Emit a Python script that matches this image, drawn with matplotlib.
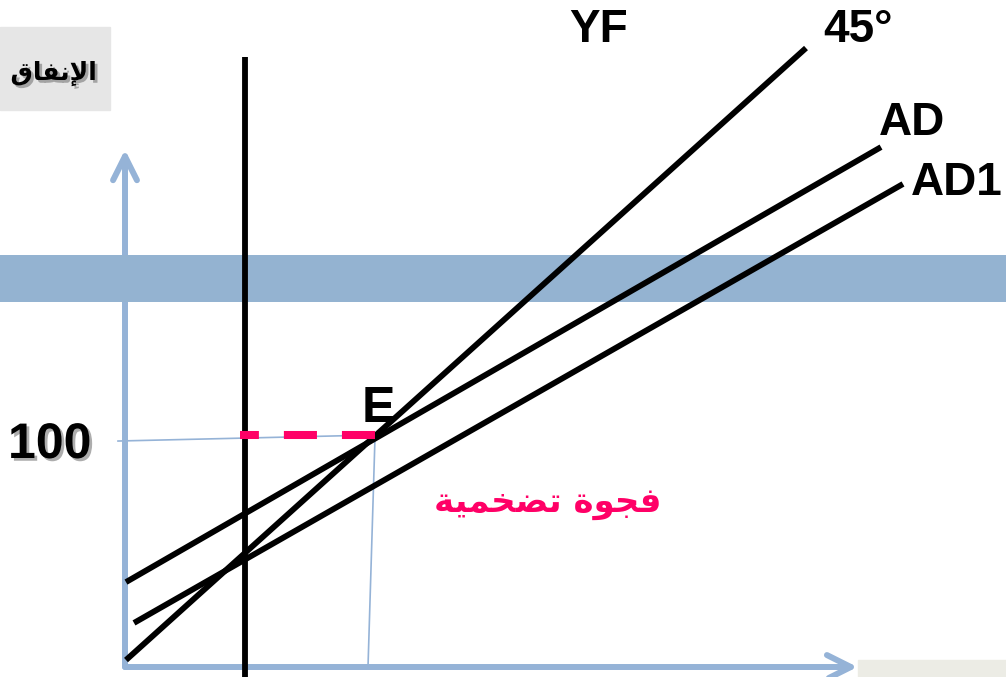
import numpy as np
import matplotlib.pyplot as plt
import matplotlib.patheffects as pe
from matplotlib.patches import Rectangle

plt.rcParams['lines.scale_dashes'] = False

# Diagram values (income on x, expenditure on y)
line_45_x = [0.4, 272.4]
line_45_y = [3.0, 266.8]
ad_x = [0.4, 302.4]
ad_y = [36.6, 224.1]
ad1_x = [3.6, 311.2]
ad1_y = [19.0, 208.2]
yf_x = [48.0, 48.0]
yf_y = [-5.0, 263.0]
eq_level = 100          # E level on the expenditure axis
eq_income = 100
gap_x = [100, 46]       # dashed pink segment (drawn right to left)
band_y = [157.3, 177.6]  # horizontal blue band
y_axis_top = 223.0
x_axis_right = 293.0

blue = '#95B3D7'
pink = '#FF0066'

fig = plt.figure(figsize=(10.06, 6.77), dpi=100)
ax = fig.add_axes([0, 0, 1, 1])
ax.set_xlim(-50, 352.4)
ax.set_ylim(-4.31, 287.5)
ax.axis('off')

# blue band
ax.axhspan(band_y[0], band_y[1], color='#94B3D1', zorder=2, lw=0)

# axes arrows
arrow_style = '->,head_length=0.86,head_width=0.43'
ax.annotate('', xy=(0, y_axis_top), xytext=(0, 0),
            arrowprops=dict(arrowstyle=arrow_style, lw=4.3, color=blue,
                            mutation_scale=20, shrinkA=0, shrinkB=0,
                            capstyle='round', joinstyle='round'), zorder=1)
ax.annotate('', xy=(x_axis_right, 0), xytext=(0, 0),
            arrowprops=dict(arrowstyle=arrow_style, lw=4.3, color=blue,
                            mutation_scale=20, shrinkA=0, shrinkB=0,
                            capstyle='round', joinstyle='round'), zorder=1)

# thin guide lines to E
ax.plot([-2.8, eq_income], [97.4, eq_level], color=blue, lw=1.2, zorder=3)
ax.plot([eq_income, 97.2], [99.0, 0], color=blue, lw=1.2, zorder=3)

# main lines
for xs, ys in [(line_45_x, line_45_y), (ad_x, ad_y), (ad1_x, ad1_y), (yf_x, yf_y)]:
    ax.plot(xs, ys, color='black', lw=4.2, solid_capstyle='butt', zorder=4)

# inflationary gap dashes
ax.plot(gap_x, [eq_level, eq_level], color=pink, lw=5.8,
        dashes=(23.8, 18.0), zorder=5)

# grey boxes
fig.patches.append(Rectangle((0, 1 - 110 / 677), 110 / 1006, 83 / 677,
                             transform=fig.transFigure, color='#E6E6E6', zorder=0))
fig.patches.append(Rectangle((858 / 1006, 0), 148 / 1006, 17 / 677,
                             transform=fig.transFigure, color='#ECECE5', zorder=0))

latin = ['Liberation Sans', 'DejaVu Sans']
shadow = [pe.withSimplePatchShadow(offset=(2, -2), shadow_rgbFace='#777777', alpha=0.6)]


def px(x, y):
    return x / 1006, 1 - y / 677


fig.text(*px(599, 42), 'YF', ha='center', va='baseline', fontsize=33,
         fontweight='bold', family=latin)
fig.text(*px(823, 42), '45°', ha='left', va='baseline', fontsize=33,
         fontweight='bold', family=latin)
fig.text(*px(879, 135), 'AD', ha='left', va='baseline', fontsize=33,
         fontweight='bold', family=latin)
fig.text(*px(911, 195), 'AD1', ha='left', va='baseline', fontsize=33,
         fontweight='bold', family=latin)
fig.text(*px(362, 422), 'E', ha='left', va='baseline', fontsize=36,
         fontweight='bold', family=latin)
fig.text(*px(8, 458), '100', ha='left', va='baseline', fontsize=36,
         fontweight='bold', family=latin, path_effects=shadow)

# Arabic text, written in visual order with presentation forms
gap_label = '\uFE94\uFEF4\uFEE4\uFEA8\uFEC0\uFE97 \uFE93\uFEEE\uFEA0\uFED3'   # فجوة تضخمية
spend_label = '\uFED5\uFE8E\uFED4\uFEE7\uFEF9\uFE8D'                          # الإنفاق
fig.text(*px(548, 512), gap_label, ha='center', va='baseline', fontsize=24.5,
         fontweight='bold', color=pink, family=['DejaVu Sans'])
fig.text(*px(97, 80), spend_label, ha='right', va='baseline', fontsize=18,
         fontweight='bold', family=['DejaVu Sans'], path_effects=shadow)

fig.savefig('out.png', dpi=100)
